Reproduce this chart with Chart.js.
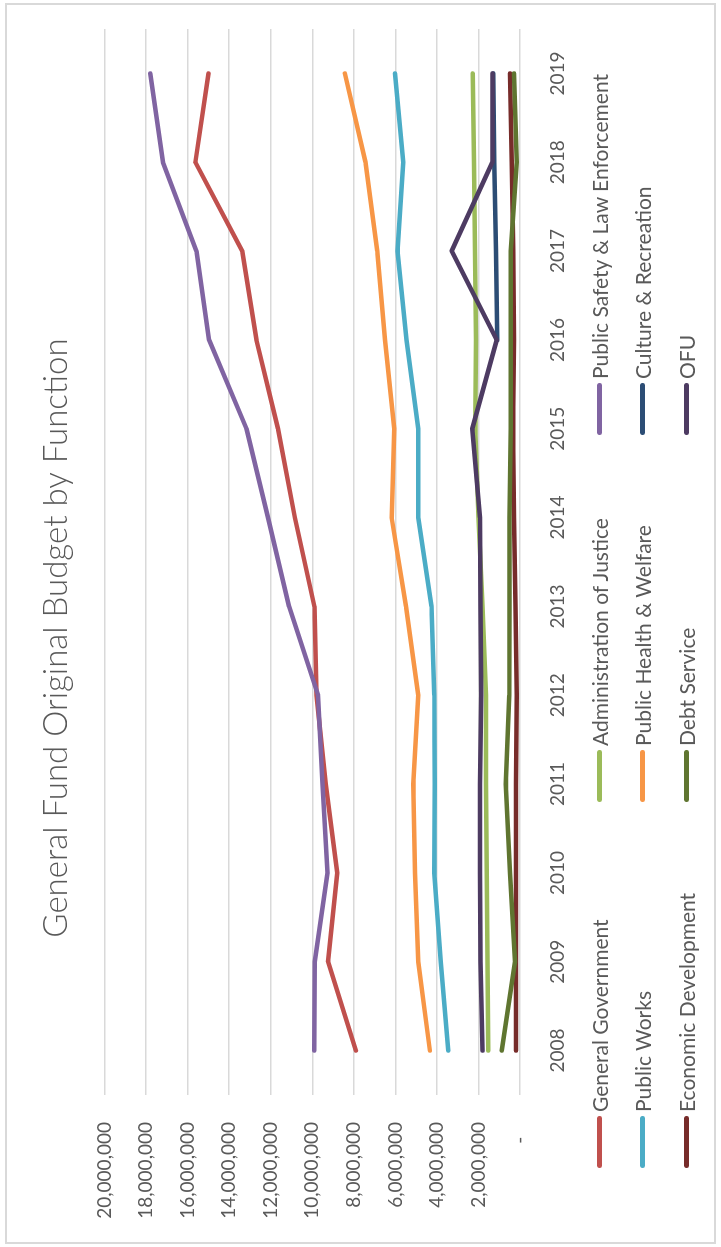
<!DOCTYPE html>
<html>
<head>
<meta charset="utf-8">
<title>General Fund Original Budget by Function</title>
<script src="https://cdn.jsdelivr.net/npm/chart.js@4.4.1/dist/chart.umd.min.js"></script>
<style>
  html, body { margin: 0; padding: 0; background: #fff; overflow: hidden; }
  body { width: 721px; height: 1247px; position: relative; font-family: Lato, 'Open Sans', sans-serif; }
  /* the chart is laid out landscape and turned a quarter to the left */
  #frame { position: absolute; left: 0; top: 0; width: 1247px; height: 721px;
    transform-origin: 0 0; transform: translate(0, 1247px) rotate(-90deg); background: #fff; }
  #border { position: absolute; left: 3px; top: 5px; width: 1241px; height: 711px;
    border: 2px solid #d9d9d9; box-sizing: border-box; }
  #chart { position: absolute; left: 0; top: 0; }
  .item { position: absolute; display: flex; align-items: center; height: 26px;
    font-size: 21px; color: #595959; white-space: nowrap; }
  .swatch { width: 52px; height: 5px; border-radius: 3px; margin-right: 4px; }
</style>
</head>
<body>
<div id="frame">
  <div id="border"></div>
  <canvas id="chart" width="1247" height="721"></canvas>
  <div id="legend"></div>
</div>
<script>
const years = ['2008', '2009', '2010', '2011', '2012', '2013', '2014', '2015', '2016', '2017', '2018', '2019']
const yTicks = [0, 2000000, 4000000, 6000000, 8000000, 10000000, 12000000, 14000000, 16000000, 18000000, 20000000]

const generalGovernment = [7900000, 9240000, 8800000, 9350000, 9800000, 9900000, 10840000, 11650000, 12690000, 13370000, 15630000, 15000000]
const adminOfJustice = [1530000, 1570000, 1600000, 1640000, 1640000, 1800000, 2000000, 2150000, 2120000, 2170000, 2220000, 2280000]
const publicSafety = [9910000, 9880000, 9270000, 9510000, 9720000, 11120000, 12130000, 13170000, 14970000, 15580000, 17190000, 17800000]
const publicWorks = [3450000, 3820000, 4130000, 4100000, 4130000, 4260000, 4900000, 4900000, 5460000, 5900000, 5620000, 6020000]
const publicHealth = [4340000, 4900000, 5060000, 5140000, 4900000, 5490000, 6180000, 6050000, 6500000, 6870000, 7440000, 8430000]
const cultureRecreation = [null, null, null, null, null, null, null, null, 1090000, 1160000, 1240000, 1290000]
const economicDevelopment = [190000, 190000, 190000, 190000, 160000, 220000, 290000, 340000, 290000, 320000, 400000, 480000]
const debtService = [880000, 240000, 480000, 690000, 520000, 500000, 500000, 450000, 450000, 450000, 160000, 290000]
const ofu = [1800000, 1900000, 1930000, 1930000, 1870000, 1900000, 1930000, 2300000, 1120000, 3290000, 1330000, 1330000]

const series = [
  ['General Government', generalGovernment, '#C0504D'],
  ['Administration of Justice', adminOfJustice, '#9BBB59'],
  ['Public Safety & Law Enforcement', publicSafety, '#8064A2'],
  ['Public Works', publicWorks, '#4BACC6'],
  ['Public Health & Welfare', publicHealth, '#F79646'],
  ['Culture & Recreation', cultureRecreation, '#2C4D75'],
  ['Economic Development', economicDevelopment, '#772C2A'],
  ['Debt Service', debtService, '#5F7530'],
  ['OFU', ofu, '#4D3B62']
]

const font = 'Lato, "Open Sans", sans-serif'
const grey = '#595959'

const chart = new Chart(document.getElementById('chart'), {
  type: 'line',
  data: {
    labels: years,
    datasets: series.map(([label, data, color], i) => ({
      label,
      data,
      borderColor: color,
      backgroundColor: color,
      borderWidth: 4.5,
      borderCapStyle: 'round',
      borderJoinStyle: 'round',
      pointRadius: 0,
      tension: 0,
      // later series are painted over earlier ones, like the original
      order: series.length - 1 - i
    }))
  },
  options: {
    responsive: false,
    animation: false,
    layout: { padding: { left: 0, right: 29, top: 0, bottom: 0 } },
    plugins: {
      legend: { display: false },
      tooltip: { enabled: false },
      title: {
        display: true,
        text: 'General Fund Original Budget by Function',
        color: grey,
        font: { family: font, size: 33, weight: 300 },
        padding: { top: 37, bottom: 28 }
      }
    },
    scales: {
      x: {
        offset: true,
        grid: { display: false },
        border: { display: false },
        afterFit: s => { s.height = 201 },
        ticks: { padding: 18, maxRotation: 0, autoSkip: false, color: grey, font: { family: font, size: 19 } }
      },
      y: {
        min: yTicks[0],
        max: yTicks[yTicks.length - 1],
        afterFit: s => { s.width = 152 },
        afterBuildTicks: s => { s.ticks = yTicks.map(v => ({ value: v })) },
        border: { display: false },
        grid: { color: '#d9d9d9', lineWidth: 1.5, drawTicks: false },
        ticks: {
          padding: 27,
          color: grey,
          font: { family: font, size: 19 },
          callback: v => v === 0 ? '-   ' : v.toLocaleString('en-US')
        }
      }
    }
  }
})

// legend in three aligned columns
const colX = [79, 445, 812]
const rowY = [599, 642, 686]
const legend = document.getElementById('legend')
chart.data.datasets.forEach((ds, i) => {
  const item = document.createElement('div')
  item.className = 'item'
  item.style.left = colX[i % 3] + 'px'
  item.style.top = (rowY[Math.floor(i / 3)] - 13) + 'px'
  const sw = document.createElement('span')
  sw.className = 'swatch'
  sw.style.background = ds.borderColor
  const txt = document.createElement('span')
  txt.textContent = ds.label
  item.appendChild(sw)
  item.appendChild(txt)
  legend.appendChild(item)
})
</script>
</body>
</html>
